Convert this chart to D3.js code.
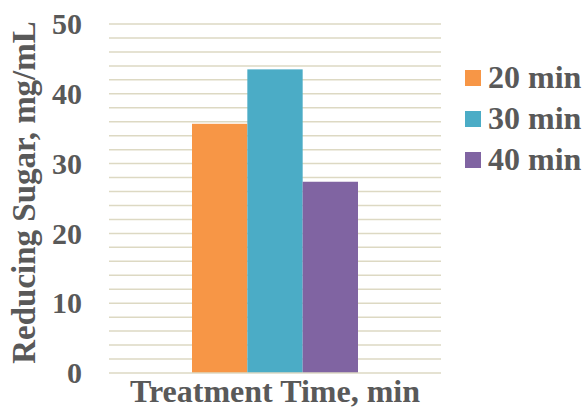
<!DOCTYPE html>
<html>
<head>
<meta charset="utf-8">
<script src="https://cdn.jsdelivr.net/npm/d3@7"></script>
<style>
  html, body { margin: 0; padding: 0; background: #ffffff; }
  svg text { font-family: "Liberation Serif", "Times New Roman", serif; font-weight: bold; fill: #595959; }
</style>
</head>
<body>
<svg id="chart" width="582" height="409"></svg>
<script>
// Reducing sugar yield by treatment time
const seriesNames = ["20 min", "30 min", "40 min"];
const seriesValues = [35.7, 43.5, 27.4];
const seriesColors = ["#f79646", "#4bacc6", "#8064a2"];
const yTicks = [0, 10, 20, 30, 40, 50];
const category = "Treatment Time, min";
const yTitle = "Reducing Sugar, mg/mL";

const svg = d3.select("#chart");
const plot = { left: 109, right: 441, top: 24, bottom: 373 };

const y = d3.scaleLinear().domain([0, 50]).range([plot.bottom, plot.top]);
const x0 = d3.scaleBand().domain([category]).range([plot.left, plot.right]).paddingInner(0).paddingOuter(0.5);
const x1 = d3.scaleBand().domain(seriesNames).range([0, x0.bandwidth()]).padding(0);

// minor gridlines every 2 units
const gridVals = d3.range(2, 50.001, 2);
svg.append("g").selectAll("line").data(gridVals).join("line")
  .attr("x1", plot.left).attr("x2", plot.right)
  .attr("y1", d => y(d)).attr("y2", d => y(d))
  .attr("stroke", "#ddd9c3").attr("stroke-width", 1.5);

// bars
svg.append("g").selectAll("rect").data(seriesValues).join("rect")
  .attr("x", (d, i) => x0(category) + x1(seriesNames[i]))
  .attr("width", x1.bandwidth())
  .attr("y", d => y(d))
  .attr("height", d => y(0) - y(d))
  .attr("fill", (d, i) => seriesColors[i]);

// baseline
svg.append("line")
  .attr("x1", plot.left).attr("x2", plot.right)
  .attr("y1", y(0)).attr("y2", y(0))
  .attr("stroke", "#ddd9c3").attr("stroke-width", 1.5);

// y axis tick labels
const yAxis = d3.axisLeft(y).tickValues(yTicks).tickSize(0).tickPadding(0).tickFormat(d3.format("d"));
const gy = svg.append("g").attr("transform", "translate(82,0)").call(yAxis);
gy.select(".domain").remove();
gy.selectAll("text").attr("font-size", 30).attr("fill", "#595959")
  .style("font-family", '"Liberation Serif", serif').style("font-weight", "bold");

// y axis title
svg.append("text")
  .attr("transform", "translate(35,192.5) rotate(-90)")
  .attr("text-anchor", "middle")
  .attr("font-size", 33)
  .text(yTitle);

// x axis title
svg.append("text")
  .attr("x", 275).attr("y", 402)
  .attr("text-anchor", "middle")
  .attr("font-size", 32)
  .text(category);

// legend
const legend = svg.append("g");
seriesNames.forEach((name, i) => {
  const cy = 78 + i * 41;
  legend.append("rect").attr("x", 465).attr("y", cy - 8).attr("width", 16).attr("height", 16).attr("fill", seriesColors[i]);
  legend.append("text").attr("x", 488).attr("y", cy + 9.5).attr("font-size", 32).text(name);
});
</script>
</body>
</html>
